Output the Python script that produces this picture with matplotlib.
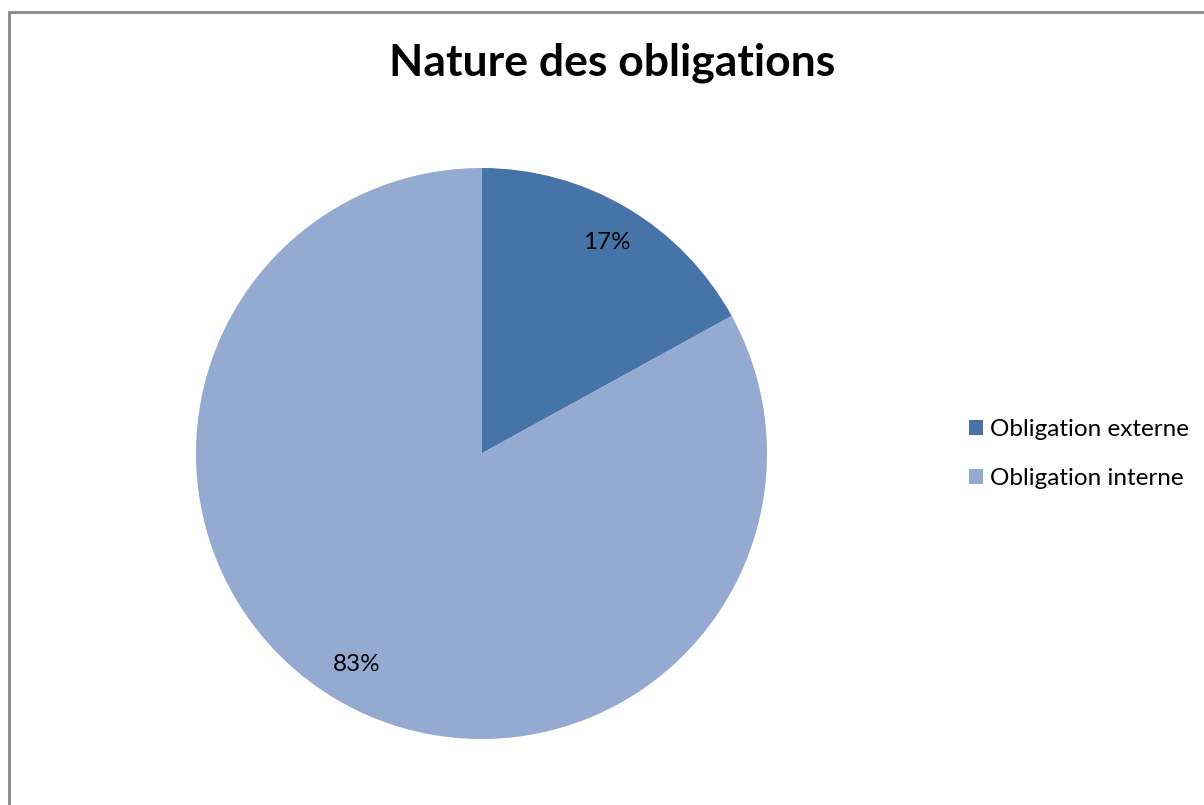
import matplotlib
matplotlib.use('Agg')
import matplotlib.pyplot as plt
from matplotlib.patches import Rectangle

labels = ['Obligation externe', 'Obligation interne']
values = [17, 83]
colors = ['#4674A9', '#95AAD1']

W, H = 1204, 805
fig = plt.figure(figsize=(W / 100, H / 100), dpi=100)
fig.patch.set_facecolor('white')

# grey frame around the chart area (runs off right/bottom edges)
fig.add_artist(Rectangle((9 / W, -0.05), 1.2, 1 - 12 / H + 0.05,
                         transform=fig.transFigure, fill=False,
                         edgecolor='#888888', linewidth=2))

fig.text(612 / W, 1 - 63 / H, 'Nature des obligations', ha='center', va='center',
         fontsize=32, fontweight='bold', family='Lato')

ax = fig.add_axes([196 / W, (H - 739) / H, 571 / W, 571 / H])
wedges, texts, autotexts = ax.pie(values, colors=colors, startangle=90, counterclock=False,
                                  autopct='%1.0f%%', pctdistance=0.86,
                                  textprops={'fontsize': 17.5, 'family': 'Lato', 'color': 'black'})
ax.set_aspect('equal')
ax.set_xlim(-1, 1)
ax.set_ylim(-1, 1)

fig.legend(wedges, labels, loc='center left', bbox_to_anchor=(947 / W, 1 - 454 / H),
           frameon=False, prop={'family': 'Lato', 'size': 17.5},
           handlelength=0.6, handleheight=0.6, handletextpad=0.25, labelspacing=1.15)

fig.savefig('out.png', dpi=100)
